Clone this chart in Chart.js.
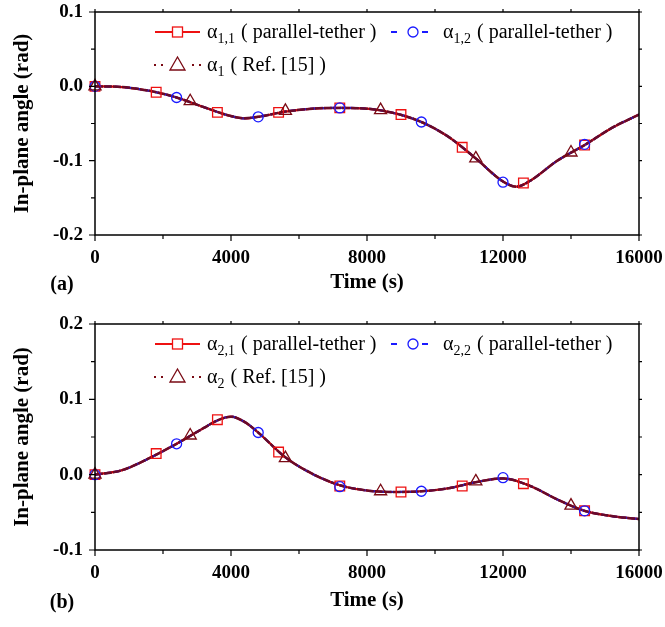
<!DOCTYPE html>
<html>
<head>
<meta charset="utf-8">
<script src="https://cdn.jsdelivr.net/npm/chart.js@4.4.0/dist/chart.umd.min.js"></script>
<style>
  html, body { margin: 0; padding: 0; background: #fff; }
  #wrap { position: relative; width: 665px; height: 627px; }
  .panel { position: absolute; left: 0; width: 665px; }
</style>
</head>
<body>
<div id="wrap">
  <div class="panel" style="top:0;height:310px"><canvas id="chartA" width="665" height="310"></canvas></div>
  <div class="panel" style="top:310px;height:317px"><canvas id="chartB" width="665" height="317"></canvas></div>
</div>
<script>
// ---- Panel (a) : alpha 1 ----
const curveTimeA = [0, 800, 1600, 2400, 3200, 4000, 4400, 4800, 5600, 6400, 7200, 8000, 8800, 9600, 10400, 11200, 12000, 12400, 12800, 13600, 14400, 15200, 16000];
const alpha1Curve = [0, -0.001, -0.006, -0.015, -0.028, -0.040, -0.043, -0.041, -0.034, -0.030, -0.029, -0.030, -0.036, -0.048, -0.068, -0.097, -0.128, -0.135, -0.127, -0.100, -0.079, -0.056, -0.038];

// ---- Panel (b) : alpha 2 ----
const curveTimeB = [0, 800, 1600, 2400, 3200, 3600, 4000, 4400, 4800, 5600, 6400, 7200, 8000, 8800, 9600, 10400, 11200, 12000, 12800, 13600, 14400, 15200, 16000];
const alpha2Curve = [0, 0.006, 0.022, 0.041, 0.062, 0.072, 0.077, 0.070, 0.056, 0.023, 0.001, -0.014, -0.021, -0.023, -0.022, -0.018, -0.010, -0.005, -0.015, -0.033, -0.048, -0.055, -0.059];

// marker times (each series has its own symbol spacing)
const sqTime = [0, 1800, 3600, 5400, 7200, 9000, 10800, 12600, 14400];
const circTime = [0, 2400, 4800, 7200, 9600, 12000, 14400];
const triTime = [0, 2800, 5600, 8400, 11200, 14000];

const alpha11Sq = [0, -0.008, -0.035, -0.035, -0.029, -0.038, -0.082, -0.130, -0.079];
const alpha12Circ = [0, -0.015, -0.041, -0.029, -0.048, -0.129, -0.078];
const alpha1Tri = [0, -0.020, -0.033, -0.032, -0.097, -0.089];

const alpha21Sq = [0, 0.028, 0.073, 0.030, -0.015, -0.023, -0.015, -0.012, -0.048];
const alpha22Circ = [0, 0.041, 0.056, -0.016, -0.022, -0.004, -0.048];
const alpha2Tri = [0, 0.052, 0.022, -0.022, -0.009, -0.041];

const xTickValues = [0, 4000, 8000, 12000, 16000];

const RED = '#ee1111';
const BLUE = '#1a1aff';
const MAROON = '#7a0a14';
const SERIF = '"Liberation Serif", "Times New Roman", serif';

function pts(xs, ys) {
  return xs.map((t, i) => ({ x: t, y: ys[i] }));
}

function isTenth(v) {
  return Math.abs(v * 10 - Math.round(v * 10)) < 1e-6;
}

// legend symbol + text with subscript
function drawEntry(ctx, kind, sx, tx, y, sub) {
  ctx.save();
  if (kind === 'square') {
    ctx.strokeStyle = RED; ctx.lineWidth = 2;
    ctx.beginPath(); ctx.moveTo(sx, y); ctx.lineTo(sx + 45, y); ctx.stroke();
    ctx.fillStyle = '#fff'; ctx.lineWidth = 1.3;
    ctx.fillRect(sx + 17.5, y - 5, 10, 10);
    ctx.strokeRect(sx + 17.5, y - 5, 10, 10);
  } else if (kind === 'circle') {
    ctx.strokeStyle = BLUE; ctx.lineWidth = 2.2;
    ctx.beginPath();
    ctx.moveTo(sx, y); ctx.lineTo(sx + 6, y);
    ctx.moveTo(sx + 31, y); ctx.lineTo(sx + 37, y);
    ctx.stroke();
    ctx.lineWidth = 1.3;
    ctx.beginPath(); ctx.arc(sx + 22, y, 5, 0, Math.PI * 2); ctx.stroke();
  } else {
    ctx.fillStyle = MAROON;
    [0, 7, 38, 45].forEach(d => { ctx.fillRect(sx + d - 1, y - 1, 2, 2); });
    ctx.strokeStyle = MAROON; ctx.lineWidth = 1.3;
    ctx.beginPath();
    ctx.moveTo(sx + 22.5, y - 8); ctx.lineTo(sx + 30, y + 5); ctx.lineTo(sx + 15, y + 5);
    ctx.closePath(); ctx.stroke();
  }
  ctx.restore();

  ctx.save();
  ctx.fillStyle = '#000';
  ctx.textBaseline = 'alphabetic';
  ctx.font = '20px ' + SERIF;
  const base = y + 6;
  ctx.fillText('\u03b1', tx, base);
  let w = ctx.measureText('\u03b1').width;
  ctx.font = '14px ' + SERIF;
  ctx.fillText(sub.idx, tx + w, base + 5);
  w += ctx.measureText(sub.idx).width + 1;
  ctx.font = '20px ' + SERIF;
  ctx.fillText(sub.rest, tx + w, base);
  ctx.restore();
}

const framePlugin = {
  id: 'frame',
  afterDraw(chart, args, opts) {
    const { ctx, chartArea: a, scales: { x, y } } = chart;
    ctx.save();
    ctx.strokeStyle = '#000';
    ctx.lineWidth = 1.5;
    ctx.strokeRect(a.left, a.top, a.right - a.left, a.bottom - a.top);
    ctx.lineWidth = 1.2;
    ctx.beginPath();
    x.ticks.forEach(t => {
      const px = x.getPixelForValue(t.value);
      const major = t.value % 4000 === 0;
      ctx.moveTo(px, a.bottom); ctx.lineTo(px, a.bottom + (major ? 6 : 4));
      ctx.moveTo(px, a.top); ctx.lineTo(px, a.top - 3);
    });
    y.ticks.forEach(t => {
      const py = y.getPixelForValue(t.value);
      const major = isTenth(t.value);
      ctx.moveTo(a.left, py); ctx.lineTo(a.left - (major ? 6 : 4), py);
      ctx.moveTo(a.right, py); ctx.lineTo(a.right + 3, py);
    });
    ctx.stroke();

    // panel letter
    ctx.fillStyle = '#000';
    ctx.font = 'bold 20px ' + SERIF;
    ctx.textAlign = 'center';
    ctx.textBaseline = 'middle';
    ctx.fillText(opts.letter, 62, opts.letterY);
    ctx.restore();

    // legend
    const r1 = a.top + 20, r2 = a.top + 53;
    drawEntry(ctx, 'square', 155, 207, r1, opts.subs[0]);
    drawEntry(ctx, 'circle', 391, 443, r1, opts.subs[1]);
    drawEntry(ctx, 'triangle', 155, 207, r2, opts.subs[2]);
  }
};

function makePanel(id, cfg) {
  const H = cfg.height;
  new Chart(document.getElementById(id), {
    type: 'line',
    data: {
      datasets: [
        // lower "order" is drawn on top
        { order: 5, data: pts(cfg.curveTime, cfg.curve), borderColor: 'rgb(220,0,0)', borderWidth: 2.2, pointRadius: 0, cubicInterpolationMode: 'monotone' },
        { order: 4, data: pts(cfg.curveTime, cfg.curve), borderColor: 'rgb(30,30,220)', borderWidth: 2.2, borderDash: [6, 4], pointRadius: 0, cubicInterpolationMode: 'monotone' },
        { order: 3, data: pts(cfg.curveTime, cfg.curve), borderColor: 'rgb(105,10,40)', borderWidth: 2.5, borderDash: [8, 1], pointRadius: 0, cubicInterpolationMode: 'monotone' },
        { order: 2, data: pts(sqTime, cfg.sq), showLine: false, pointStyle: 'rect', pointRadius: 6.8, pointBorderColor: RED, pointBackgroundColor: 'rgba(0,0,0,0)', pointBorderWidth: 1.3, clip: false },
        { order: 1, data: pts(circTime, cfg.circ), showLine: false, pointStyle: 'circle', pointRadius: 5, pointBorderColor: BLUE, pointBackgroundColor: 'rgba(0,0,0,0)', pointBorderWidth: 1.3, clip: false },
        { order: 0, data: pts(triTime, cfg.tri), showLine: false, pointStyle: 'triangle', pointRadius: 7, pointBorderColor: MAROON, pointBackgroundColor: 'rgba(0,0,0,0)', pointBorderWidth: 1.3, clip: false }
      ]
    },
    options: {
      responsive: false,
      animation: false,
      devicePixelRatio: 1,
      layout: { padding: { top: cfg.top, right: 26, left: 0, bottom: 0 } },
      plugins: {
        legend: { display: false },
        tooltip: { enabled: false },
        frame: { letter: cfg.letter, letterY: cfg.letterY, subs: cfg.subs }
      },
      scales: {
        x: {
          type: 'linear', min: 0, max: 16000,
          grid: { display: false, drawTicks: false },
          border: { display: false },
          ticks: {
            stepSize: 2000, autoSkip: false, maxRotation: 0, padding: 12, color: '#000',
            font: { family: SERIF, size: 19, weight: 'bold' },
            callback: v => (xTickValues.includes(v) ? String(v) : '')
          },
          title: {
            display: true, text: 'Time (s)', color: '#000',
            font: { family: SERIF, size: 21, weight: 'bold' },
            padding: { top: 0, bottom: cfg.titlePad }
          },
          afterFit: s => { s.height = H - cfg.bottom; s.paddingLeft = 0; s.paddingRight = 0; }
        },
        y: {
          min: cfg.ymin, max: cfg.ymax,
          grid: { display: false, drawTicks: false },
          border: { display: false },
          ticks: {
            stepSize: 0.05, autoSkip: false, padding: 12, color: '#000',
            font: { family: SERIF, size: 19, weight: 'bold' },
            callback: v => (isTenth(v) ? (Math.round(v * 10) / 10).toFixed(1) : '')
          },
          title: {
            display: true, text: 'In-plane angle (rad)', color: '#000',
            font: { family: SERIF, size: 21, weight: 'bold' },
            padding: { top: 10, bottom: 0 }
          },
          afterFit: s => { s.width = 95; s.paddingTop = 0; s.paddingBottom = 0; }
        }
      }
    },
    plugins: [framePlugin]
  });
}

makePanel('chartA', {
  height: 310, top: 12, bottom: 235, titlePad: 15, letter: '(a)', letterY: 285,
  ymin: -0.2, ymax: 0.1,
  curveTime: curveTimeA, curve: alpha1Curve,
  sq: alpha11Sq, circ: alpha12Circ, tri: alpha1Tri,
  subs: [
    { idx: '1,1', rest: ' ( parallel-tether )' },
    { idx: '1,2', rest: ' ( parallel-tether )' },
    { idx: '1', rest: ' ( Ref. [15] )' }
  ]
});

makePanel('chartB', {
  height: 317, top: 14, bottom: 240, titlePad: 14, letter: '(b)', letterY: 293,
  ymin: -0.1, ymax: 0.2,
  curveTime: curveTimeB, curve: alpha2Curve,
  sq: alpha21Sq, circ: alpha22Circ, tri: alpha2Tri,
  subs: [
    { idx: '2,1', rest: ' ( parallel-tether )' },
    { idx: '2,2', rest: ' ( parallel-tether )' },
    { idx: '2', rest: ' ( Ref. [15] )' }
  ]
});
</script>
</body>
</html>
